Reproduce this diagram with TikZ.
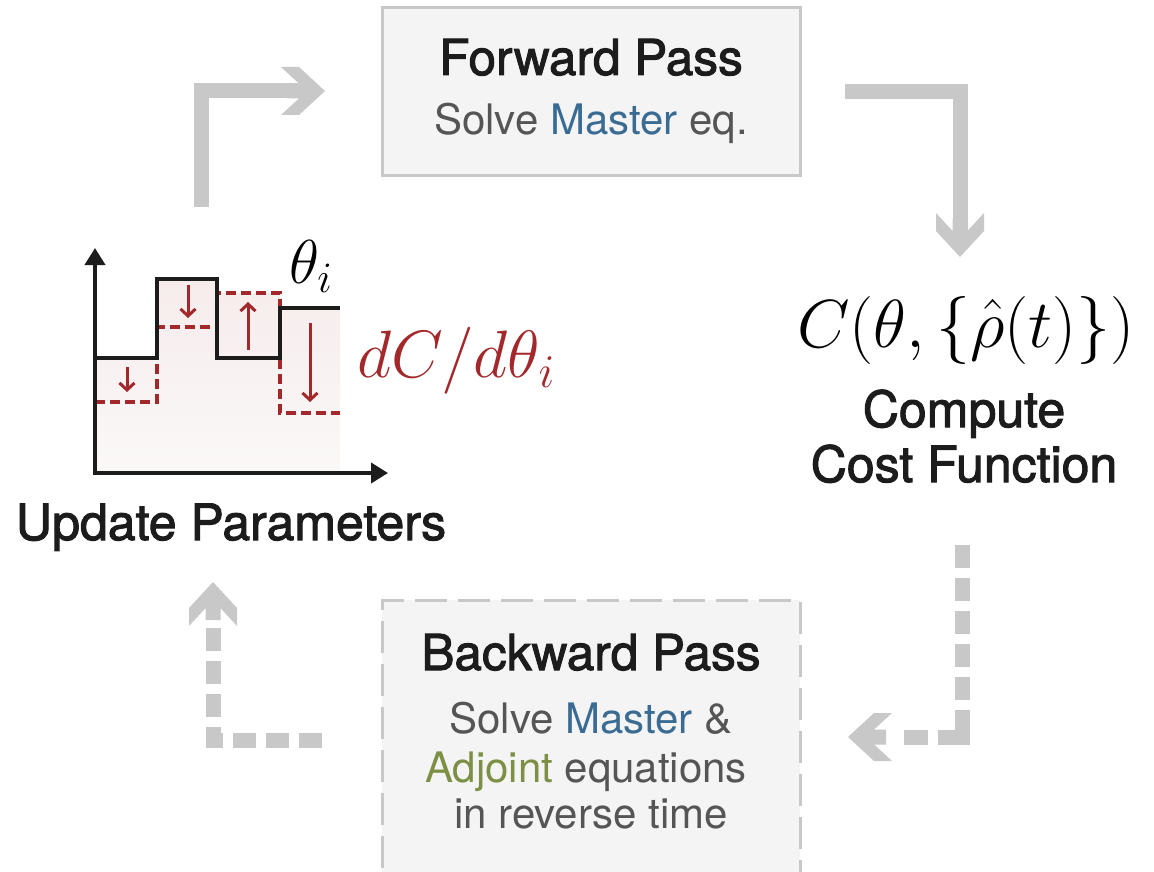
\documentclass[tikz,border=0pt]{standalone}
\usepackage{fix-cm}
\usepackage[no-math]{fontspec}
\setmainfont{TeX Gyre Heros}
\newfontfamily\headfont[FakeBold=2]{TeX Gyre Heros}
\usetikzlibrary{arrows.meta}

\definecolor{arrowgray}{RGB}{200,200,200}
\definecolor{boxfill}{RGB}{244,244,244}
\definecolor{boxline}{RGB}{200,200,200}
\definecolor{textdark}{RGB}{28,28,28}
\definecolor{textgray}{RGB}{85,85,85}
\definecolor{mblue}{RGB}{58,107,147}
\definecolor{aolive}{RGB}{125,143,69}
\definecolor{dred}{RGB}{163,40,43}
\definecolor{shadetop}{RGB}{246,236,236}
\definecolor{shadebot}{RGB}{251,248,248}

\begin{document}
\begin{tikzpicture}[x=1pt,y=-1pt,line cap=butt,
  flow/.style={draw=arrowgray,line width=15pt,line join=miter},
  chev/.pic={\fill[arrowgray] (0,0)--(-26,-24)--(-44,-24)--(-26.1,-7.5)--(-38,-7.5)
     --(-38,7.5)--(-26.1,7.5)--(-44,24)--(-26,24)--cycle;},
  passbox/.style={fill=boxfill,draw=boxline,line width=3pt,minimum width=418pt,inner sep=0pt},
  title/.style={anchor=base,inner sep=0pt,text=textdark,font=\headfont\fontsize{49.5}{50}\selectfont},
  body/.style={anchor=base,inner sep=0pt,text=textgray,font=\fontsize{42}{42}\selectfont},
  label/.style={anchor=base,inner sep=0pt,text=textdark,font=\headfont\fontsize{50}{50}\selectfont},
  axis/.style={draw=textdark,line width=4pt,line join=miter,{Triangle[length=17pt,width=20pt]}-{Triangle[length=17pt,width=20pt]}},
  stepline/.style={draw=textdark,line width=4pt,line join=miter},
  gradline/.style={draw=dred,line width=3.5pt,dash pattern=on 10pt off 5pt},
  gradarrow/.style={draw=dred,line width=3pt,-{Straight Barb[length=7pt,width=15pt]}}]

\useasboundingbox (0,0) rectangle (1154,872);
\clip (0,0) rectangle (1154,872);

% ---- forward pass box
\node[passbox,minimum height=167pt] (fwd) at (591,91.5) {};
\node[title] (fwdT) at (591,75) {Forward Pass};
\node[body] (fwdB) at (591,135) {Solve \textcolor{mblue}{Master} eq.};

% ---- backward pass box (runs off the lower edge)
\node[passbox,minimum height=304pt,dash pattern=on 32pt off 11pt] (bwd) at (591,752) {};
\node[title] (bwdT) at (591,670) {Backward Pass};
\node[body] (bwdB1) at (591,733) {Solve \textcolor{mblue}{Master} \&};
\node[body] (bwdB2) at (586,782) {\textcolor{aolive}{Adjoint} equations};
\node[body] (bwdB3) at (591,828) {in reverse time};

% ---- cost function
\node[anchor=base,inner sep=0pt,font=\fontsize{68}{68}\selectfont] (cost) at (966,347)
  {$C(\theta,\{\hat{\rho}(t)\})$};
\node[label] (costL1) at (964,427) {Compute};
\node[label] (costL2) at (964,482) {Cost Function};

% ---- update parameters
\node[label] (upd) at (231,540) {Update Parameters};

% shaded area below the piecewise-constant parameters
\shade[top color=shadetop,bottom color=shadebot]
  (95,473)--(95,358)--(157,358)--(157,279)--(217,279)--(217,293)--(280,293)
  --(280,308)--(340,308)--(340,473)--cycle;

% updated parameters (dashed) and current parameters (solid)
\draw[gradline] (95,402)--(157,402)--(157,327)--(217,327)--(217,293)--(280,293)--(280,413)--(340,413);
\draw[stepline] (95,358)--(157,358)--(157,279)--(217,279)--(217,358)--(280,358)--(280,308)--(340,308);

% axes
\coordinate (ytip) at (95,248);
\coordinate (orig) at (95,473);
\coordinate (xtip) at (388,473);
\draw[axis] (ytip)--(orig)--(xtip);

% gradient arrows
\draw[gradarrow] (127,367)--(127,392);
\draw[gradarrow] (188,285)--(188,318);
\draw[gradarrow] (248,350)--(248,302);
\draw[gradarrow] (310,323)--(310,402);

\node[anchor=base west,inner sep=0pt,font=\fontsize{62}{62}\selectfont] (theta) at (289,283) {$\theta_i$};
\node[anchor=base west,inner sep=0pt,text=dred,font=\fontsize{67}{67}\selectfont] (grad) at (357,377) {$dC/d\theta_i$};

% ---- cycle arrows
\coordinate (a1s) at (201,207);
\coordinate (a1c) at (201,91);
\coordinate (a1e) at (307,91);
\coordinate (a1t) at (325,91);
\draw[flow] (a1s)--(a1c)--(a1e);
\pic at (a1t) {chev};

\coordinate (a2s) at (845,91.5);
\coordinate (a2c) at (960,91.5);
\coordinate (a2e) at (960,239);
\coordinate (a2t) at (960,257);
\draw[flow] (a2s)--(a2c)--(a2e);
\pic[rotate=-90] at (a2t) {chev};

\coordinate (a3s) at (962,545);
\coordinate (a3c) at (962,737);
\coordinate (a3e) at (900,737);
\coordinate (a3t) at (848,737);
\draw[flow,dash pattern=on 23pt off 10pt on 23pt off 10pt on 23pt off 10pt on 23pt off 10pt
  on 23pt off 10pt on 51pt off 10pt on 24pt off 100pt] (a3s)--(a3c)--(a3e);
\pic[rotate=180] at (a3t) {chev};

\coordinate (a4s) at (322,740);
\coordinate (a4c) at (213,740);
\coordinate (a4e) at (213,628);
\coordinate (a4t) at (213,582);
\draw[flow,dash pattern=on 23pt off 10pt] (a4s)--(a4c)--(a4e);
\pic[rotate=90] at (a4t) {chev};
\end{tikzpicture}
\end{document}
